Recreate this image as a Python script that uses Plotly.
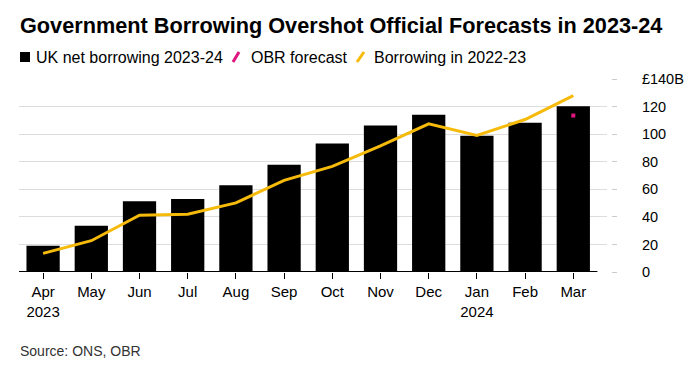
import plotly.graph_objects as go

months = ["Apr", "May", "Jun", "Jul", "Aug", "Sep", "Oct", "Nov", "Dec", "Jan", "Feb", "Mar"]
tick_labels = ["Apr<br>2023", "May", "Jun", "Jul", "Aug", "Sep", "Oct", "Nov", "Dec", "Jan<br>2024", "Feb", "Mar"]
borrowing_2023_24 = [19.1, 33.6, 51.4, 52.9, 63.0, 77.8, 93.2, 106.3, 114.0, 98.8, 108.2, 120.3]
borrowing_2022_23 = [13.5, 22.7, 41.2, 41.9, 50.1, 66.5, 76.6, 91.5, 107.5, 99.1, 110.6, 128.0]
obr_month = ["Mar"]
obr_forecast = [113.5]
y_tickvals = [0, 20, 40, 60, 80, 100, 120, 140]
y_ticktext = ["0", "20", "40", "60", "80", "100", "120", "£140B"]

BLACK = "#000000"
PINK = "#E0157F"
YELLOW = "#F5BA0A"
FONT = "Liberation Sans, Arial, sans-serif"

fig = go.Figure()
fig.add_trace(go.Bar(x=months, y=borrowing_2023_24, marker=dict(color=BLACK, line=dict(width=0)),
                     name="UK net borrowing 2023-24", showlegend=False))
fig.add_trace(go.Scatter(x=months, y=borrowing_2022_23, mode="lines",
                         line=dict(color=YELLOW, width=3), name="Borrowing in 2022-23", showlegend=False))
fig.add_trace(go.Scatter(x=obr_month, y=obr_forecast, mode="markers",
                         marker=dict(color=PINK, size=4, symbol="square"), name="OBR forecast", showlegend=False))

# baseline (x-axis line limited to the category band)
fig.add_shape(type="line", xref="x", yref="y", x0=-0.5, x1=len(months) - 0.5, y0=0, y1=0,
              line=dict(color=BLACK, width=2), layer="above")

L, R, T, B = 19, 80, 79, 98
W = 700 - L - R
H = 370 - T - B
fig.update_layout(
    width=700, height=370,
    margin=dict(l=L, r=R, t=T, b=B),
    paper_bgcolor="white", plot_bgcolor="white",
    font=dict(family=FONT, color="#000000"),
    bargap=0.31,
    showlegend=False,
    xaxis=dict(domain=[0, (607 - L) / W], range=[-0.5, (607 - L) / 48.2 - 0.5],
               type="category", tickmode="array", tickvals=months, ticktext=tick_labels,
               ticks="outside", ticklen=6, tickcolor=BLACK, tickwidth=1,
               tickfont=dict(size=15, color="#000000"), showgrid=False, showline=False, zeroline=False),
    yaxis=dict(range=[0, 140], side="right", anchor="free", position=(611 - L) / W,
               tickmode="array", tickvals=y_tickvals, ticktext=y_ticktext,
               ticks="outside", ticklen=5, tickcolor="#cccccc", tickwidth=1,
               ticklabelstandoff=22,
               tickfont=dict(size=14.5, color="#000000"),
               showgrid=True, gridcolor="#dddddd", gridwidth=1, zeroline=False, showline=False),
)

def ypx(px):
    return 1 + (T - px) / H
def xpx(px):
    return (px - L) / W

fig.add_annotation(text="<b>Government Borrowing Overshot Official Forecasts in 2023-24</b>",
                   xref="paper", yref="paper", x=xpx(18), y=ypx(26), xanchor="left", yanchor="middle",
                   showarrow=False, font=dict(size=21.7, family=FONT, color="#000000"))

# custom legend
leg_y = 57
fig.add_shape(type="rect", xref="paper", yref="paper", x0=xpx(20), x1=xpx(30), y0=ypx(62), y1=ypx(52),
              fillcolor=BLACK, line=dict(width=0))
fig.add_annotation(text="UK net borrowing 2023-24", xref="paper", yref="paper", x=xpx(34), y=ypx(leg_y),
                   xanchor="left", yanchor="middle", showarrow=False, font=dict(size=16, family=FONT))
fig.add_shape(type="line", xref="paper", yref="paper", x0=xpx(233), x1=xpx(239), y0=ypx(62), y1=ypx(52),
              line=dict(color=PINK, width=3))
fig.add_annotation(text="OBR forecast", xref="paper", yref="paper", x=xpx(249), y=ypx(leg_y),
                   xanchor="left", yanchor="middle", showarrow=False, font=dict(size=16, family=FONT))
fig.add_shape(type="line", xref="paper", yref="paper", x0=xpx(357), x1=xpx(364), y0=ypx(62), y1=ypx(52),
              line=dict(color=YELLOW, width=3))
fig.add_annotation(text="Borrowing in 2022-23", xref="paper", yref="paper", x=xpx(372), y=ypx(leg_y),
                   xanchor="left", yanchor="middle", showarrow=False, font=dict(size=16, family=FONT))

fig.add_annotation(text="Source: ONS, OBR", xref="paper", yref="paper", x=xpx(18), y=ypx(351),
                   xanchor="left", yanchor="middle", showarrow=False, font=dict(size=14, family=FONT, color="#333333"))

fig.write_html("out.html", config={"displayModeBar": False},
               post_script="document.body.style.margin='0px';")
